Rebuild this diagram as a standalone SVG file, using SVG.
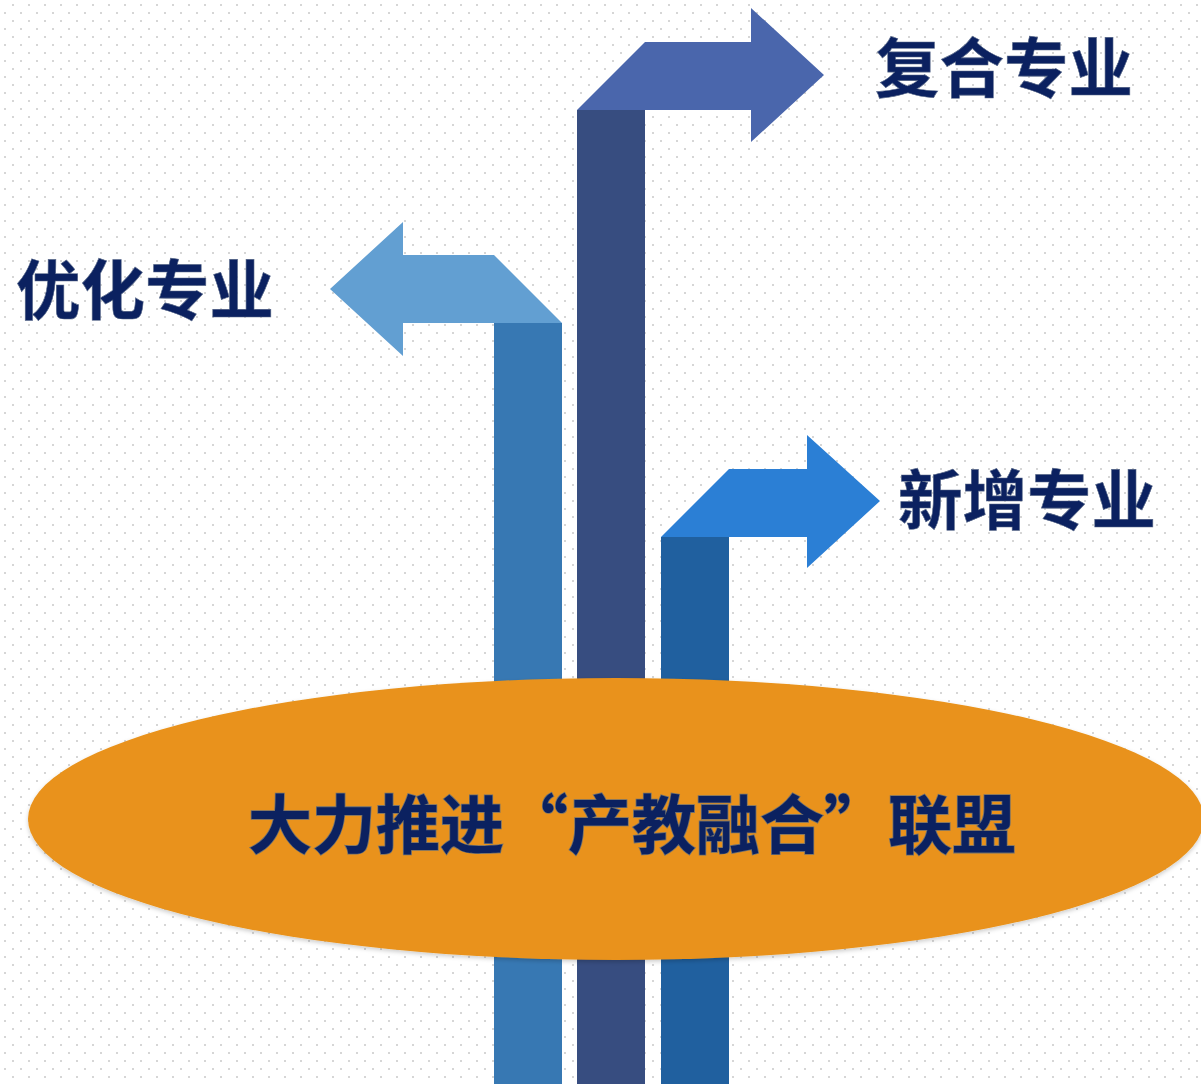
<svg xmlns="http://www.w3.org/2000/svg" width="1201" height="1084" viewBox="0 0 1201 1084">
  <defs>
    <pattern id="dots" x="0" y="0" width="16" height="16" patternUnits="userSpaceOnUse">
      <rect x="12" y="4" width="2" height="2" fill="#d6d6d6"/>
      <rect x="4" y="12" width="2" height="2" fill="#d6d6d6"/>
    </pattern>
    <filter id="shadow" x="-10%" y="-10%" width="120%" height="130%">
      <feDropShadow dx="0" dy="2" stdDeviation="2" flood-color="#000" flood-opacity="0.2"/>
    </filter>
  </defs>
  <style>
    .label { font-family: "Noto Sans CJK SC", "Noto Sans CJK TC", sans-serif; font-weight: 700; fill: #0b2160; dominant-baseline: central; }
    .lbl { font-size: 64.5px; stroke: #5a6a8a; stroke-width: 0.6px; }
    .main { font-size: 64px; stroke: #6f7070; stroke-width: 1.6px; paint-order: stroke; }
  </style>
  <rect width="1201" height="1084" fill="#ffffff"/>
  <rect width="1201" height="1084" fill="url(#dots)"/>

  <g id="connectors">
    <g id="arrow-left">
      <rect x="494" y="323" width="68" height="761" fill="#3778b3"/>
      <polygon points="562,323 403,323 403,356 330,289 403,222 403,255 494,255" fill="#629fd2"/>
    </g>
    <g id="arrow-top">
      <rect x="577" y="110" width="68" height="974" fill="#374d80"/>
      <polygon points="577,110 645,42 751,42 751,8 824,75 751,142 751,110" fill="#4a66ac"/>
    </g>
    <g id="arrow-right">
      <rect x="661" y="537" width="68" height="547" fill="#20609f"/>
      <polygon points="661,537 729,469 807,469 807,435 880,501 807,568 807,537" fill="#2b7fd5"/>
    </g>
  </g>

  <g id="node-alliance">
    <ellipse cx="616" cy="819" rx="588" ry="141" fill="#e9921a" filter="url(#shadow)"/>
    <text class="label main" x="248" y="820">大力推进“产教融合”联盟</text>
  </g>
  <g id="node-fuhe">
    <text class="label lbl" x="875" y="64">复合专业</text>
  </g>
  <g id="node-youhua">
    <text class="label lbl" x="16" y="286">优化专业</text>
  </g>
  <g id="node-xinzeng">
    <text class="label lbl" x="898" y="496">新增专业</text>
  </g>
</svg>
